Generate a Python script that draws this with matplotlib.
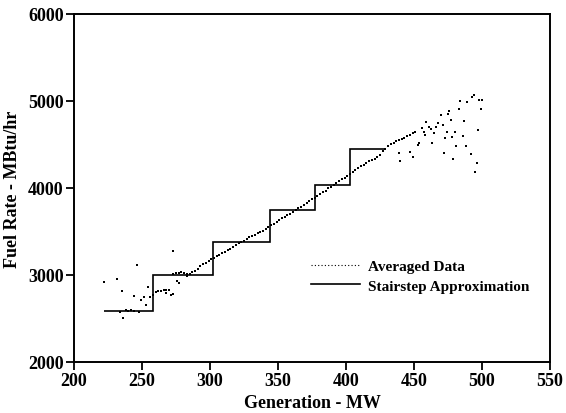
import numpy as np
import matplotlib.pyplot as plt
from matplotlib.lines import Line2D

# averaged data - central band
line_x = [256, 258, 260, 262, 264, 266, 268, 270, 273, 275, 277, 279, 281, 283, 285,
          287, 289, 291, 293, 295, 297, 299, 301, 303, 305, 307, 309, 311, 313, 315,
          317, 319, 321, 323, 325, 327, 329, 331, 333, 335, 337, 339, 341, 343, 345,
          347, 349, 351, 353, 355, 357, 359, 361, 363, 365, 367, 369, 371, 373, 375,
          377, 379, 381, 383, 385, 387, 389, 391, 393, 395, 397, 399, 401, 403, 405,
          407, 409, 411, 413, 415, 417, 419, 421, 423, 425, 427, 429, 431, 433, 435,
          437, 439, 441, 443, 445, 447, 449, 451]
line_y = [2745, 2770, 2800, 2812, 2820, 2825, 2832, 2828, 3010, 3020, 3025, 3030, 3028, 3015, 3012,
          3035, 3050, 3070, 3100, 3125, 3140, 3160, 3180, 3200, 3215, 3232, 3248, 3265, 3285, 3300,
          3325, 3350, 3365, 3378, 3395, 3415, 3432, 3450, 3465, 3480, 3492, 3510, 3530, 3555, 3570,
          3590, 3610, 3635, 3655, 3670, 3690, 3705, 3725, 3745, 3765, 3785, 3800, 3825, 3850, 3870,
          3890, 3910, 3930, 3950, 3970, 3995, 4015, 4040, 4060, 4080, 4100, 4120, 4140, 4160, 4185,
          4210, 4235, 4255, 4270, 4290, 4305, 4320, 4335, 4355, 4380, 4420, 4450, 4480, 4505, 4520,
          4535, 4550, 4565, 4580, 4595, 4610, 4630, 4645]

# scattered averaged points, low end
low_x = [222, 232, 235.5, 236, 238.5, 234, 240, 242, 244, 244.5, 246.5, 247.7, 249.6, 251.6,
         253.3, 254.3, 267.5, 271, 273, 273, 276, 277.5, 283]
low_y = [2916, 2954, 2813, 2500, 2598, 2570, 2590, 2592, 2590, 2755, 3115, 2570, 2710, 2742,
         2657, 2857, 2790, 2770, 2782, 3272, 2935, 2903, 2990]

# scattered averaged points, high end
high_x = [439, 440, 447, 449, 453, 454, 456, 457, 458, 459, 461, 462.5, 463.5, 466, 465, 468,
          470, 471, 472, 473, 474, 475, 476, 477, 478, 479, 480, 481, 483, 484, 486, 487,
          488, 489, 492, 493, 494, 495, 496, 497, 498, 499, 500]
high_y = [4400, 4314, 4410, 4353, 4494, 4517, 4685, 4639, 4612, 4762, 4701, 4678, 4513, 4697,
          4627, 4745, 4839, 4724, 4402, 4570, 4647, 4846, 4885, 4787, 4586, 4333, 4647, 4486,
          4908, 4996, 4594, 4774, 4486, 4984, 4387, 5049, 5072, 4187, 4287, 4662, 5011, 4911, 5007]

# stairstep approximation
step_edges = [222, 258, 302, 344.5, 377, 403, 428]
step_levels = [2590, 3000, 3380, 3745, 4040, 4450]

plt.rcParams['font.family'] = ['Liberation Serif', 'DejaVu Serif']
plt.rcParams['font.weight'] = 'bold'

fig = plt.figure(figsize=(5.66, 4.14), dpi=100)
ax = fig.add_axes([0.1307, 0.1232, 0.841, 0.8406])

all_x = np.concatenate([low_x, line_x, high_x])
all_y = np.concatenate([low_y, line_y, high_y])
ax.plot(all_x, all_y, linestyle='none', marker='s', markersize=1.8,
        markeredgewidth=0, color='black')
ax.stairs(step_levels, step_edges, baseline=None, color='black', linewidth=1.2)

ax.set_xlim(200, 550)
ax.set_ylim(2000, 6000)
ax.set_xticks(np.arange(200, 551, 50))
ax.set_yticks(np.arange(2000, 6001, 1000))
ax.tick_params(direction='out', length=6, width=1.3, labelsize=13, pad=1.5)
for lab in ax.get_xticklabels() + ax.get_yticklabels():
    lab.set_fontweight('bold')
for sp in ax.spines.values():
    sp.set_linewidth(1.4)

ax.set_xlabel('Generation - MW', fontsize=13, fontweight='bold', labelpad=3)
ax.set_ylabel('Fuel Rate - MBtu/hr', fontsize=13, fontweight='bold', labelpad=5)

handles = [Line2D([], [], color='black', linestyle=(0, (1, 2)), linewidth=0.8),
           Line2D([], [], color='black', linestyle='-', linewidth=1.2)]
ax.legend(handles, ['Averaged Data', 'Stairstep Approximation'],
          loc='upper left', bbox_to_anchor=(0.47, 0.335), frameon=False,
          handlelength=3.2, handletextpad=0.5, labelspacing=0.4,
          prop={'size': 11, 'weight': 'bold'})

fig.savefig('out.png', dpi=100)
